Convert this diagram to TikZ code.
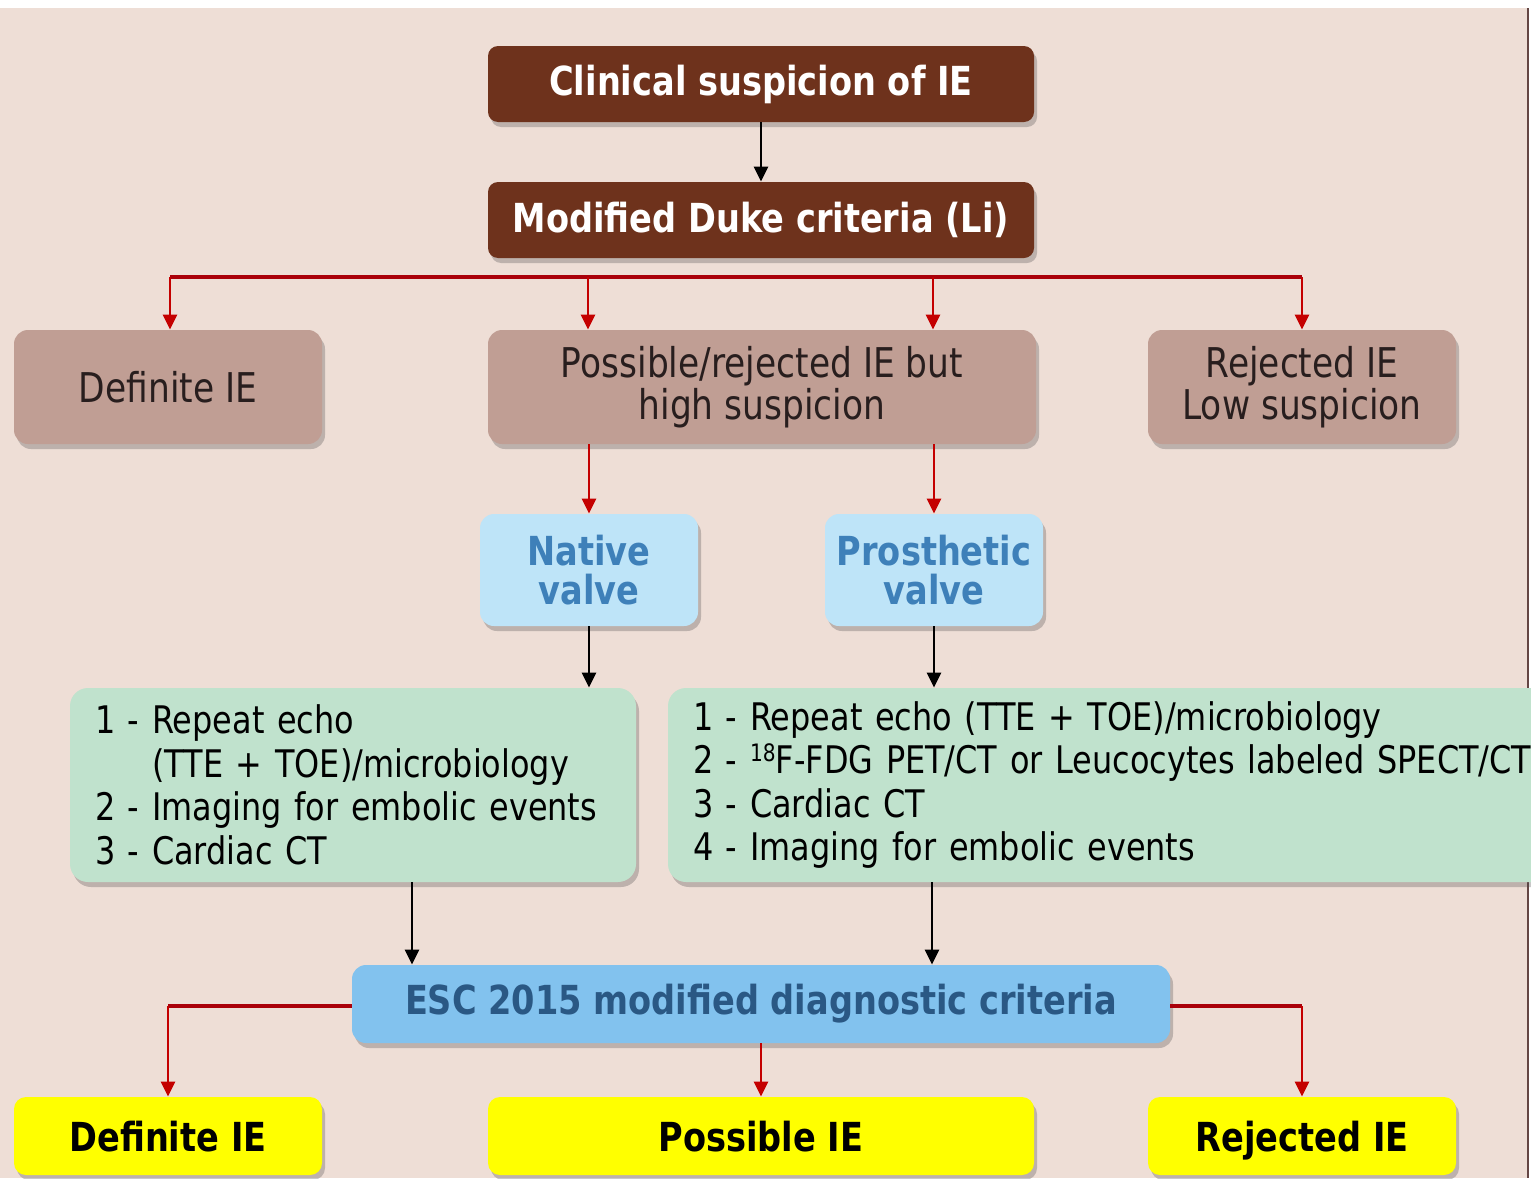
\documentclass[tikz,border=0pt]{standalone}
\usepackage{fontspec}
\setmainfont[FakeStretch=0.84]{DejaVu Sans}
\usetikzlibrary{arrows.meta,shadows}
\definecolor{bgc}{RGB}{238,222,214}
\definecolor{brownc}{RGB}{110,50,28}
\definecolor{taupe}{RGB}{192,158,148}
\definecolor{taupetext}{RGB}{40,30,30}
\definecolor{lblue}{RGB}{190,228,248}
\definecolor{vblue}{RGB}{62,128,185}
\definecolor{greenc}{RGB}{192,226,205}
\definecolor{escblue}{RGB}{130,194,238}
\definecolor{esctext}{RGB}{42,88,132}
\definecolor{redc}{RGB}{196,0,0}
\definecolor{busred}{RGB}{170,0,10}
\definecolor{borderc}{RGB}{100,70,68}
\definecolor{yel}{RGB}{255,255,0}
\tikzset{
  boxbase/.style={rounded corners=5pt, inner sep=0pt, align=center,
    drop shadow={shadow xshift=1.5pt, shadow yshift=-2.5pt, opacity=0.3, fill=black!70}},
  brownbox/.style={boxbase, fill=brownc, text=white, minimum width=273pt, minimum height=38pt,
    font=\fontsize{20}{21}\selectfont\bfseries},
  taupebox/.style={boxbase, rounded corners=7pt, fill=taupe, text=taupetext, minimum height=57pt,
    font=\fontsize{20.5}{21}\selectfont},
  valvebox/.style={boxbase, rounded corners=7pt, fill=lblue, text=vblue, minimum width=109pt, minimum height=56pt,
    font=\fontsize{20}{19.5}\selectfont\bfseries},
  greenbox/.style={boxbase, rounded corners=9pt, fill=greenc, text=black, align=left, minimum height=97pt,
    inner xsep=12.5pt, font=\fontsize{19}{21.75}\selectfont},
  escbox/.style={boxbase, rounded corners=7pt, fill=escblue, text=esctext, minimum width=409pt, minimum height=39pt,
    font=\fontsize{20}{21}\selectfont\bfseries},
  yelbox/.style={boxbase, rounded corners=6pt, fill=yel, text=black, minimum height=39pt, text depth=0pt,
    font=\fontsize{20}{21}\selectfont\bfseries},
  redarr/.style={draw=redc, line width=1.4pt, -{Triangle[length=7.5pt,width=7pt]}},
  redbus/.style={draw=busred, line width=2pt},
  blkarr/.style={draw=black, line width=1.2pt, -{Triangle[length=7.5pt,width=7pt]}},
}
\begin{document}
\begin{tikzpicture}[x=0.5pt,y=-0.5pt]
\useasboundingbox (0,0) rectangle (1531,1178);
\clip (0,0) rectangle (1531,1178);
\fill[white] (0,0) rectangle (1531,1178);
\fill[bgc] (0,8) rectangle (1528,1178);
\draw[borderc, line width=1pt] (1528,8) -- (1528,1178);

% top boxes
\node[brownbox] (b1) at (761,84) {Clinical suspicion of IE};
\node[brownbox] (b2) at (761,220) {Modified Duke criteria (Li)};
\draw[blkarr] (b1.south) -- (b2.north);

% row 3
\node[taupebox, minimum width=154pt] (r1) at (168,387) {Definite IE};
\node[taupebox, minimum width=274pt] (r2) at (762,387) {Possible/rejected IE but\\high suspicion};
\node[taupebox, minimum width=154pt] (r3) at (1302,387) {Rejected IE\\Low suspicion};

% bus
\coordinate (busL) at (170,277);
\coordinate (busA) at (588,277);
\coordinate (busB) at (933,277);
\coordinate (busR) at (1302,277);
\draw[redbus] (busL) -- (busR);
\draw[redarr] (busL) -- (busL |- r1.north);
\draw[redarr] (busA) -- (busA |- r2.north);
\draw[redarr] (busB) -- (busB |- r2.north);
\draw[redarr] (busR) -- (busR |- r3.north);

% valves
\node[valvebox] (nv) at (589,570) {Native\\valve};
\node[valvebox] (pv) at (934,570) {Prosthetic\\valve};
\draw[redarr] (nv |- r2.south) -- (nv.north);
\draw[redarr] (pv |- r2.south) -- (pv.north);

% green boxes
\node[greenbox, text width=258pt] (g1) at (353,785)
  {1 - Repeat echo\\\hphantom{1 - }(TTE + TOE)/microbiology\\2 - Imaging for embolic events\\3 - Cardiac CT};
\node[greenbox, text width=501pt] (g2) at (1194,785)
  {1 - Repeat echo (TTE + TOE)/microbiology\\2 - {\fontsize{12}{12}\selectfont\raisebox{6pt}{18}}F-FDG PET/CT or Leucocytes labeled SPECT/CT\\3 - Cardiac CT\\4 - Imaging for embolic events};
\draw[blkarr] (nv.south) -- (nv.south |- g1.north);
\draw[blkarr] (pv.south) -- (pv.south |- g2.north);

% ESC
\node[escbox] (esc) at (761,1004) {ESC 2015 modified diagnostic criteria};
\coordinate (gA) at (412,0);
\coordinate (gB) at (932,0);
\draw[blkarr] (gA |- g1.south) -- (gA |- esc.north);
\draw[blkarr] (gB |- g2.south) -- (gB |- esc.north);

% yellow
\node[yelbox, minimum width=154pt] (y1) at (168,1136) {Definite IE};
\node[yelbox, minimum width=273pt] (y2) at (761,1136) {Possible IE};
\node[yelbox, minimum width=154pt] (y3) at (1302,1136) {Rejected IE};

\coordinate (eL) at ([yshift=-1pt]esc.west);
\coordinate (eR) at ([yshift=-1pt]esc.east);
\draw[redbus] (eL) -- (eL -| y1.north);
\draw[redarr] (eL -| y1.north) -- (y1.north);
\draw[redbus] (eR) -- (eR -| y3.north);
\draw[redarr] (eR -| y3.north) -- (y3.north);
\draw[redarr] (esc.south) -- (y2.north);
\end{tikzpicture}
\end{document}
